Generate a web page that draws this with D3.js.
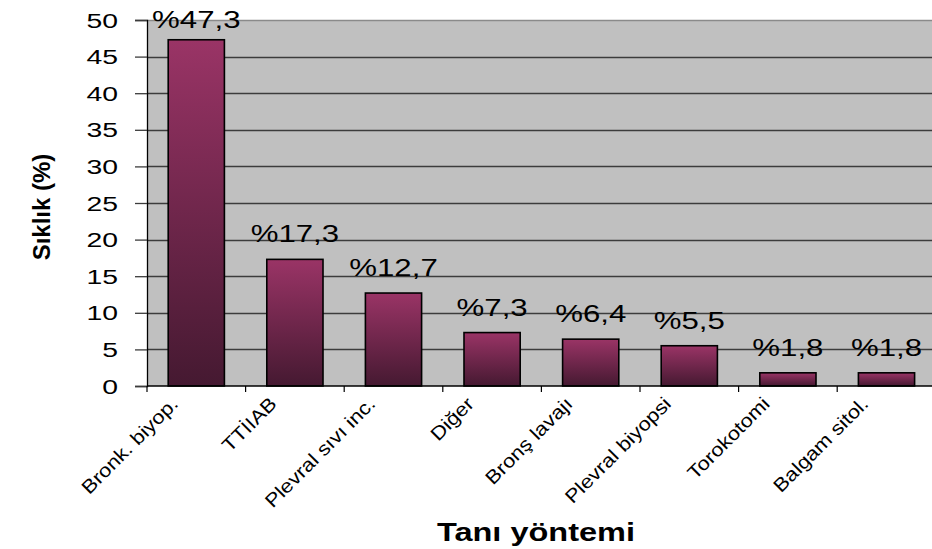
<!DOCTYPE html>
<html>
<head>
<meta charset="utf-8">
<script src="https://cdn.jsdelivr.net/npm/d3@7"></script>
<style>
  html, body { margin: 0; padding: 0; background: #fff; overflow: hidden; }
  svg { display: block; }
  text { font-family: "Liberation Sans", Arial, sans-serif; fill: #000; }
</style>
</head>
<body>
<svg id="chart" width="932" height="549"></svg>
<script>
// Diagnostic method frequencies (%)
const categories = ["Bronk. biyop.", "TTİIAB", "Plevral sıvı inc.", "Diğer", "Bronş lavajı", "Plevral biyopsi", "Torokotomi", "Balgam sitol."];
const values = [47.3, 17.3, 12.7, 7.3, 6.4, 5.5, 1.8, 1.8];
const valueLabels = ["%47,3", "%17,3", "%12,7", "%7,3", "%6,4", "%5,5", "%1,8", "%1,8"];
const yTicks = [0, 5, 10, 15, 20, 25, 30, 35, 40, 45, 50];
const xTitle = "Tanı yöntemi";
const yTitle = "Sıklık (%)";

const svg = d3.select("#chart");

const plot = { left: 147, top: 20, bottom: 386, step: 98.6 };
plot.right = plot.left + plot.step * categories.length;

const y = d3.scaleLinear().domain([0, 50]).range([plot.bottom, plot.top]);
const x = d3.scaleBand().domain(categories).range([plot.left, plot.right])
  .paddingInner(0.43).paddingOuter(0.215);
const xEdge = d3.scaleBand().domain(categories).range([plot.left, plot.right]).padding(0);

// bar gradient
const defs = svg.append("defs");
const grad = defs.append("linearGradient").attr("id", "barGrad")
  .attr("x1", 0).attr("y1", 0).attr("x2", 0).attr("y2", 1);
grad.append("stop").attr("offset", "0%").attr("stop-color", "#9a3466");
grad.append("stop").attr("offset", "100%").attr("stop-color", "#451931");

// plot background
svg.append("rect")
  .attr("x", plot.left).attr("y", plot.top)
  .attr("width", plot.right - plot.left).attr("height", plot.bottom - plot.top)
  .attr("fill", "#c0c0c0");

// gridlines
svg.append("g").selectAll("line").data(yTicks.filter(d => d > 0 && d < 50)).join("line")
  .attr("x1", plot.left).attr("x2", plot.right)
  .attr("y1", d => Math.round(y(d)) + 0.5).attr("y2", d => Math.round(y(d)) + 0.5)
  .attr("stroke", "#3c3c3c").attr("stroke-width", 1.3);

// top border of plot area
svg.append("line")
  .attr("x1", plot.left).attr("x2", plot.right)
  .attr("y1", plot.top + 0.5).attr("y2", plot.top + 0.5)
  .attr("stroke", "#8a8a8a").attr("stroke-width", 1.5);

// y axis
const yAxis = svg.append("g").attr("transform", `translate(${plot.left},0)`)
  .call(d3.axisLeft(y).tickValues(yTicks).tickSize(12).tickFormat(""));
yAxis.select(".domain").attr("stroke", "#000").attr("stroke-width", 1.3);
yAxis.selectAll(".tick line").attr("stroke", "#3c3c3c").attr("stroke-width", 1.3);

svg.append("g").selectAll("text").data(yTicks).join("text")
  .attr("transform", d => `translate(118,${y(d)}) scale(1.35,1)`)
  .attr("text-anchor", "end")
  .attr("dy", "0.36em")
  .style("font-size", "21px")
  .text(d => d);

// bars
svg.append("g").selectAll("rect").data(values).join("rect")
  .attr("x", (d, i) => x(categories[i]))
  .attr("y", d => y(d))
  .attr("width", x.bandwidth())
  .attr("height", d => y(0) - y(d))
  .attr("fill", "url(#barGrad)")
  .attr("stroke", "#000").attr("stroke-width", 1.6);

// x axis
svg.append("line")
  .attr("x1", plot.left).attr("x2", plot.right)
  .attr("y1", plot.bottom).attr("y2", plot.bottom)
  .attr("stroke", "#000").attr("stroke-width", 1.3);
svg.append("g").selectAll("line").data(categories).join("line")
  .attr("x1", d => xEdge(d)).attr("x2", d => xEdge(d))
  .attr("y1", plot.bottom).attr("y2", plot.bottom + 6)
  .attr("stroke", "#000").attr("stroke-width", 1.2);

// value labels
svg.append("g").selectAll("text").data(values).join("text")
  .attr("transform", (d, i) => {
    const cx = x(categories[i]) + x.bandwidth() / 2;
    const by = Math.max(28, y(d) - 17);
    return `translate(${cx},${by}) scale(1.3,1)`;
  })
  .attr("text-anchor", "middle")
  .style("font-size", "24px")
  .text((d, i) => valueLabels[i]);

// category labels
svg.append("g").selectAll("text").data(categories).join("text")
  .attr("transform", d => {
    const cx = x(d) + x.bandwidth() / 2;
    return `translate(${cx - 17},${plot.bottom + 19}) rotate(-45) scale(1.15,1)`;
  })
  .attr("text-anchor", "end")
  .style("font-size", "19px")
  .text(d => d);

// axis titles
svg.append("text")
  .attr("transform", "translate(536,541) scale(1.25,1)")
  .attr("text-anchor", "middle")
  .style("font-size", "26px").style("font-weight", "bold")
  .text(xTitle);

svg.append("text")
  .attr("transform", "translate(50,207) rotate(-90)")
  .attr("text-anchor", "middle")
  .style("font-size", "24px").style("font-weight", "bold")
  .text(yTitle);
</script>
</body>
</html>
